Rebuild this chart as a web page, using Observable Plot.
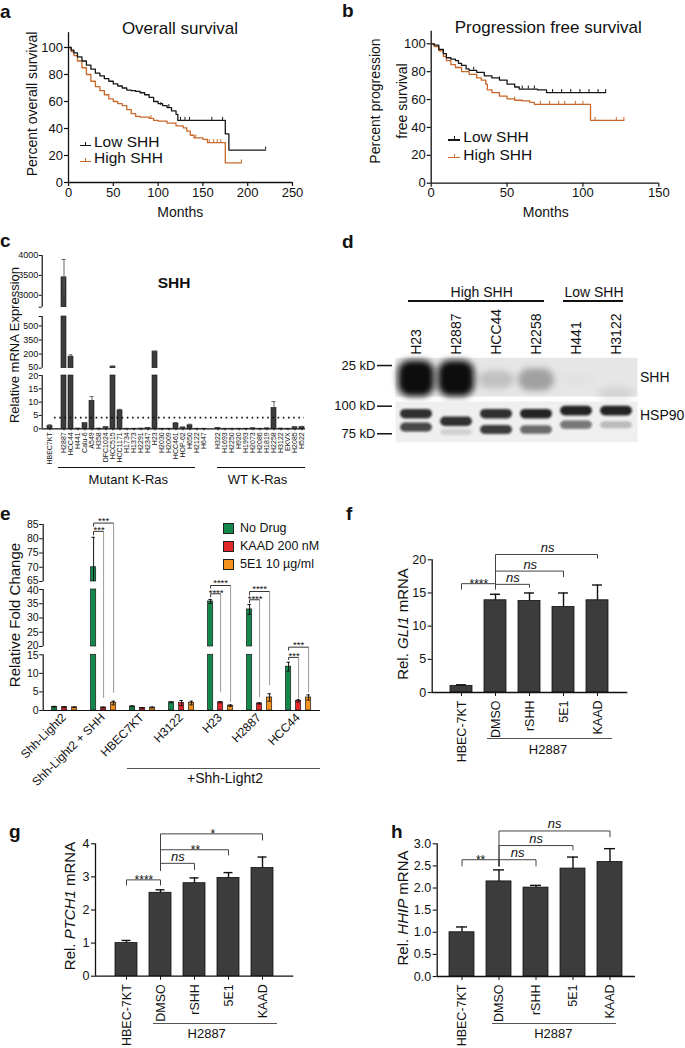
<!DOCTYPE html>
<html><head><meta charset="utf-8">
<script src="https://cdn.jsdelivr.net/npm/d3@7"></script>
<script src="https://cdn.jsdelivr.net/npm/@observablehq/plot@0.6"></script>
<style>
html,body{margin:0;padding:0;background:#fff;}
#root{position:relative;width:685px;height:1048px;overflow:hidden;font-family:"Liberation Sans",Arial,Helvetica,sans-serif;color:#111;background:#fff;}
#root svg{position:absolute;overflow:visible;max-width:none;}
.t{position:absolute;white-space:nowrap;line-height:1;}
.ln{position:absolute;}
</style></head><body><div id="root"></div>
<script>
// ======================= DATA =======================
// --- a/b: Kaplan–Meier curves [months, percent] ---
const monthTicksA = [0, 50, 100, 150, 200, 250];
const monthTicksB = [0, 50, 100, 150];
const pctTicks = [0, 20, 40, 60, 80, 100];
const kmA_low = [[0,100],[3,98],[6,96],[10,93],[15,90],[20,87],[25,84],[30,81],[35,79],[40,77],[45,75],[50,73],[55,71.5],[60,70],[65,68.5],[70,68],[75,67.5],[80,66.5],[85,65],[90,63],[95,60],[100,58.5],[105,57],[110,55.5],[115,53],[120,50.5],[122,46],[175,46],[175,36],[179,36],[179,24],[220,24]];
const kmA_high = [[0,100],[3,97],[6,94],[10,90],[15,85],[20,80],[25,75],[30,71],[35,68],[40,65],[45,62],[50,60],[55,58.5],[60,57],[65,54],[70,51],[75,49],[80,48.5],[90,47.5],[95,46],[100,45.5],[110,44],[120,42],[128,40.5],[132,38],[136,35],[140,33],[150,32],[155,29.5],[175,29.5],[175,14.5],[193,14.5]];
const censA_low = [[103,57],[112,55.5],[125,46],[130,46],[135,46],[160,46],[172,46],[220,24]];
const censA_high = [[92,47.5],[142,33],[157,29.5],[162,29.5],[166,29.5],[170,29.5],[193,14.5]];
const kmB_low = [[0,100],[2,99],[5,96],[8,93],[10,90],[13,89],[16,88],[18,86],[20,84.5],[23,82],[25,81],[30,79.5],[35,77],[40,75.5],[45,74],[50,71],[55,69],[58,67.5],[70,67],[76,65],[115,65]];
const kmB_high = [[0,100],[2,98],[5,95],[8,91],[10,88],[13,85],[16,83],[20,80],[25,78],[30,75.5],[33,74],[36,71],[37,67],[40,65],[45,62.5],[50,60.5],[55,59.5],[60,59],[65,58],[68,56.5],[105,56.5],[105,45],[127,45]];
const censB_low = [[28,81],[45,74],[60,67.5],[64,67.5],[68,67.5],[80,65],[86,65],[92,65],[98,65],[104,65],[110,65],[115,65]];
const censB_high = [[55,59.5],[72,56.5],[78,56.5],[84,56.5],[88,56.5],[95,56.5],[100,56.5],[108,45],[122,45],[127,45]];

// --- c: SHH mRNA by cell line ---
const controlC = ["HBEC7KT"];
const mutantC = ["H2887","HCC44","H441","Calu-6","A549","H358","DFC1024","HCC515","HCC1171","H1734","H1373","H2291","H2347","H23","H2030","H2009","HCC461","HOP-62","H650","H2122","H647"];
const wtC = ["H322","H1693","H2250","H920","H1993","H2073","H2086","H1819","H2258","H3122","EKVX","H2085","H522"];
const shhC = [1.0, 3450,172,0.1,2.1,10.5,0.1,0.6,68,6.9,0.05,0.05,0.1,0.35,227,0.05,0.05,2.0,0.5,1.3,0.05,0.05, 0.35,0.05,0.05,0.05,0.05,0.2,0.05,0.15,7.8,0.1,0.05,0.6,0.7];
const shhErrC = [0.5, 450,20,0,0.2,1.6,0,0.1,3,0.4,0,0,0,0.1,4,0,0,0.3,0.1,0.4,0,0, 0.1,0,0,0,0,0.05,0,0.05,2.4,0,0,0.1,0.2];
const cutoffC = 4.2;
const yTicksC = [0,5,10,15,20,50,200,350,500,600,2700,3000,3500,4000];
const yCapsC = [600, 2700];
const segC = [[0,20],[50,600],[2700,4000]];

// --- d: western blot ---
const lanesD = ["H23","H2887","HCC44","H2258","H441","H3122"];
const shhBlotKD = [21.8, 21.8, 21.5, 21.5, 21.5, 18.5];
const shhBlotSignal = [1.0, 1.0, 0.16, 0.3, 0.02, 0.08];
const hspUpperKD = [92, 85, 92, 92, 95, 95];
const hspUpperSignal = [0.85, 0.85, 0.85, 0.9, 0.9, 0.9];
const hspLowerKD = [80, 76, 78, 78, 82, 82];
const hspLowerSignal = [0.75, 0.12, 0.8, 0.6, 0.55, 0.22];
const ladderTopKD = [25];
const ladderBottomKD = [100, 75];

// --- e: Shh-Light2 reporter ---
const groupsE = ["Shh-Light2","Shh-Light2 + SHH","HBEC7KT","H3122","H23","H2887","HCC44"];
const treatsE = ["No Drug","KAAD 200 nM","5E1 10 µg/ml"];
const noDrugE = [1.0, 70.0, 1.1, 2.2, 35.8, 33.0, 11.8];
const noDrugErrE = [0.1, 10.5, 0.1, 0.15, 0.7, 1.7, 1.2];
const kaadE = [0.9, 0.8, 0.7, 2.0, 2.2, 1.9, 2.6];
const kaadErrE = [0.1, 0.1, 0.05, 0.7, 0.15, 0.15, 0.3];
const e5e1E = [0.85, 2.0, 0.8, 2.0, 1.3, 3.5, 3.5];
const e5e1ErrE = [0.05, 0.5, 0.1, 0.5, 0.2, 1.0, 0.7];
const yTicksE = [0,5,10,15,20,25,30,35,40,65,70,75,80,85];
const segE = [[0,15],[20,40],[65,85]];
const bracketsE = [
  {group:"Shh-Light2 + SHH", from:"No Drug", to:"KAAD 200 nM", y:82.6, yFrom:81.2, yTo:3.4, label:"***"},
  {group:"Shh-Light2 + SHH", from:"No Drug", to:"5E1 10 µg/ml", y:85.5, yFrom:84.3, yTo:4.8, label:"***"},
  {group:"H23", from:"No Drug", to:"KAAD 200 nM", y:38.5, yFrom:37.3, yTo:4.9, label:"****"},
  {group:"H23", from:"No Drug", to:"5E1 10 µg/ml", y:52.5, yFrom:43, yTo:2.3, label:"****"},
  {group:"H2887", from:"No Drug", to:"KAAD 200 nM", y:36.4, yFrom:35.2, yTo:3.6, label:"****"},
  {group:"H2887", from:"No Drug", to:"5E1 10 µg/ml", y:39.3, yFrom:38.0, yTo:6.8, label:"****"},
  {group:"HCC44", from:"No Drug", to:"KAAD 200 nM", y:14.3, yFrom:13.6, yTo:3.2, label:"***"},
  {group:"HCC44", from:"No Drug", to:"5E1 10 µg/ml", y:19.6, yFrom:17.6, yTo:4.9, label:"***"}
];

// --- f/g/h: H2887 target genes ---
const catsFGH = ["HBEC-7KT","DMSO","rSHH","5E1","KAAD"];
const gli1 = [1.0, 13.9, 13.8, 12.9, 13.9];
const gli1Err = [0.16, 0.9, 1.2, 2.1, 2.3];
const ptch1 = [1.0, 2.52, 2.81, 2.97, 3.27];
const ptch1Err = [0.08, 0.09, 0.16, 0.16, 0.33];
const hhip = [1.0, 2.15, 2.01, 2.44, 2.59];
const hhipErr = [0.12, 0.26, 0.05, 0.26, 0.3];
const bracketsF = [
  {from:"HBEC-7KT", to:"DMSO", y:16.4, yFrom:15.5, yTo:15.5, label:"****"},
  {from:"DMSO", to:"rSHH", y:16.3, yFrom:15.6, yTo:15.8, label:"ns"},
  {from:"DMSO", to:"5E1", y:18.3, yFrom:15.6, yTo:17.4, label:"ns"},
  {from:"DMSO", to:"KAAD", y:20.8, yFrom:15.6, yTo:20.2, label:"ns"}
];
const bracketsG = [
  {from:"HBEC-7KT", to:"DMSO", y:2.91, yFrom:2.74, yTo:2.74, label:"****"},
  {from:"DMSO", to:"rSHH", y:3.41, yFrom:3.19, yTo:3.21, label:"ns"},
  {from:"DMSO", to:"5E1", y:3.82, yFrom:3.19, yTo:3.65, label:"**"},
  {from:"DMSO", to:"KAAD", y:4.30, yFrom:3.19, yTo:4.10, label:"*"}
];
const bracketsH = [
  {from:"HBEC-7KT", to:"DMSO", y:2.64, yFrom:2.49, yTo:2.49, label:"**"},
  {from:"DMSO", to:"rSHH", y:2.64, yFrom:2.49, yTo:2.49, label:"ns"},
  {from:"DMSO", to:"5E1", y:2.96, yFrom:2.49, yTo:2.85, label:"ns"},
  {from:"DMSO", to:"KAAD", y:3.29, yFrom:2.49, yTo:3.15, label:"ns"}
];

// ======================= STYLE / LAYOUT =======================
const F = '"Liberation Sans", Arial, Helvetica, sans-serif';
const KM_BLACK = "#161616", KM_ORANGE = "#c8682a";
const BAR = "#3c3c3c";
const colorsE = ["#13884a", "#e2272d", "#f6921e"];
const root = document.getElementById("root");

function plotIn(box, opts) {
  const svg = Plot.plot({
    width: box.w, height: box.h,
    style: {fontFamily: F, fontSize: "12px", color: "#111", background: "transparent", overflow: "visible", maxWidth: "none"},
    ...opts
  });
  svg.style.left = box.l + "px";
  svg.style.top = box.t + "px";
  root.appendChild(svg);
  return svg;
}
function T(html, x, y, o = {}) {
  const d = document.createElement("div");
  d.className = "t";
  d.innerHTML = html;
  d.style.fontSize = (o.size || 13) + "px";
  if (o.bold) d.style.fontWeight = "bold";
  if (o.italic) d.style.fontStyle = "italic";
  d.style.left = x + "px";
  d.style.top = y + "px";
  const ax = o.anchor === "start" ? "0" : o.anchor === "end" ? "-100%" : "-50%";
  d.style.transform = `translate(${ax},-50%)` + (o.rotate ? ` rotate(${o.rotate}deg)` : "");
  root.appendChild(d);
}
function Letter(ch, x, baseline) {
  const d = document.createElement("div");
  d.className = "t";
  d.textContent = ch;
  d.style.fontSize = "19px";
  d.style.fontWeight = "bold";
  d.style.left = x + "px";
  d.style.top = (baseline - 0.8465 * 19) + "px";
  root.appendChild(d);
}
function Ln(x1, x2, y, w = 1, color = "#111") {
  const d = document.createElement("div");
  d.className = "ln";
  d.style.left = x1 + "px"; d.style.top = (y - w / 2) + "px";
  d.style.width = (x2 - x1) + "px"; d.style.height = w + "px";
  d.style.background = color;
  root.appendChild(d);
}
function Vn(x, y1, y2, w = 1, color = "#111") {
  const d = document.createElement("div");
  d.className = "ln";
  d.style.left = (x - w / 2) + "px"; d.style.top = y1 + "px";
  d.style.width = w + "px"; d.style.height = (y2 - y1) + "px";
  d.style.background = color;
  root.appendChild(d);
}
function pieces(v, segs) {
  return segs.filter(([lo]) => v > lo).map(([lo, hi]) => [lo, Math.min(v, hi)]);
}
// broken (piecewise) axis: a transform maps values onto the panel's pixel column
function brokenFn(dom, px) { return d3.scaleLinear().domain(dom).range(px); }
function brokenY(f, px, top) {
  return {transform: v => f(v), domain: [px[0], px[px.length - 1]], range: [px[0] - top, px[px.length - 1] - top], axis: null};
}
// tick lines + labels of a broken axis; crowded labels at a break are nudged apart
function brokenAxisMarks(f, ticks, label, up, down, o) {
  const pad = o.tickSize + o.tickPadding;
  const lab = (vals, dy) => Plot.axisY({ticks: vals.map(f), tickFormat: d => label(f.invert(d)), tickSize: 0, tickPadding: pad, fontSize: o.fontSize, dy, label: null});
  const rest = ticks.filter(v => !up.includes(v) && !down.includes(v));
  return [
    Plot.axisY({ticks: ticks.map(f), tickFormat: () => "", tickSize: o.tickSize, strokeWidth: 1, label: null}),
    lab(rest, 0), lab(up, -o.nudge), lab(down, o.nudge)
  ];
}
function blur(svg, desc, sd) {
  const id = "blur-" + desc;
  const defs = d3.select(svg).insert("defs", ":first-child");
  defs.append("filter").attr("id", id).attr("x", "-50%").attr("y", "-50%").attr("width", "200%").attr("height", "200%")
    .append("feGaussianBlur").attr("stdDeviation", sd);
  d3.select(svg).selectAll(`g[aria-description="${desc}"]`).attr("filter", `url(#${id})`);
}
const fx0 = d => d[0], fy1 = d => d[1];

// ======================= a / b =======================
function kmPanel(box, ax, ay, xDom, yTop, xTicks, low, high, cLow, cHigh) {
  const X = v => v - box.l, Y = v => v - box.t;
  plotIn(box, {
    marginLeft: X(ax[0]), marginRight: box.w - X(ax[1]), marginTop: Y(ay[1]), marginBottom: box.h - Y(ay[0]),
    x: {domain: xDom, range: [X(ax[0]), X(ax[1])], axis: null},
    y: {domain: [0, yTop], range: [Y(ay[0]), Y(ay[1])], axis: null},
    marks: [
      Plot.ruleY([0], {x1: () => xDom[0], x2: () => xDom[1], strokeWidth: 1.3}),
      Plot.ruleX([0], {y1: () => 0, y2: () => yTop, strokeWidth: 1.3}),
      Plot.axisX({ticks: xTicks, tickSize: 4, tickPadding: 1, fontSize: 13, strokeWidth: 1.2, label: null}),
      Plot.axisY({ticks: pctTicks, tickSize: 4, tickPadding: 1.5, fontSize: 13, strokeWidth: 1.2, label: null}),
      Plot.line(high, {x: fx0, y: fy1, curve: "step-after", stroke: KM_ORANGE, strokeWidth: 1.3}),
      Plot.line(low, {x: fx0, y: fy1, curve: "step-after", stroke: KM_BLACK, strokeWidth: 1.3}),
      Plot.ruleX(cHigh, {x: fx0, y1: fy1, y2: d => d[1] + 2.2, stroke: KM_ORANGE, strokeWidth: 1}),
      Plot.ruleX(cLow, {x: fx0, y1: fy1, y2: d => d[1] + 2.2, stroke: KM_BLACK, strokeWidth: 1})
    ]
  });
}
kmPanel({l: 0, t: 0, w: 340, h: 240}, [68, 292], [182, 32.15], [0, 250], 111, monthTicksA, kmA_low, kmA_high, censA_low, censA_high);
kmPanel({l: 340, t: 0, w: 345, h: 240}, [430.7, 658.3], [182.7, 30.75], [0, 150], 109, monthTicksB, kmB_low, kmB_high, censB_low, censB_high);

Letter("a", 0, 18.3);
T("Overall survival", 180, 28.3, {size: 17});
T("Percent overall survival", 31.7, 104.2, {size: 14, rotate: -90});
T("Months", 180.3, 211.7, {size: 14});
function kmKey(x1, x2, y, color) { Ln(x1, x2, y, 1.4, color); Vn((x1 + x2) / 2, y - 3.6, y, 1.3, color); }
kmKey(80, 90.7, 145.7, KM_BLACK); T("Low SHH", 94, 141.7, {size: 15.5, anchor: "start"});
kmKey(80, 90.7, 161.3, KM_ORANGE); T("High SHH", 94, 158.3, {size: 15.5, anchor: "start"});

Letter("b", 342, 16.7);
T("Progression free survival", 548.3, 26.7, {size: 17});
T("Percent progression", 375, 100.5, {size: 14, rotate: -90});
T("free survival", 402, 100.5, {size: 14, rotate: -90});
T("Months", 545.8, 212, {size: 14});
kmKey(448.3, 460, 140, KM_BLACK); T("Low SHH", 463.3, 136.7, {size: 15.5, anchor: "start"});
kmKey(448.3, 460, 157.3, KM_ORANGE); T("High SHH", 463.3, 155, {size: 15.5, anchor: "start"});

// ======================= c =======================
{
  const box = {l: 0, t: 250, w: 340, h: 240};
  const Y = v => v - box.t;
  const cellsC = [...controlC, ...mutantC, ...wtC];
  const slotsC = [...controlC, "gap1", ...mutantC, "gap2", ...wtC];
  const pxC = [428.3, 375, 367.7, 316, 306.7, 255];
  const fC = brokenFn([0, 20, 50, 600, 2700, 4000], pxC);
  const yScale = brokenY(fC, pxC, box.t);
  const bars = [], errs = [], caps = [];
  cellsC.forEach((cell, i) => {
    const v = shhC[i], e = shhErrC[i];
    pieces(v, segC).forEach(([y1, y2]) => bars.push({cell, y1, y2}));
    if (e > 0) {
      const seg = segC.find(([lo, hi]) => v >= lo && v <= hi);
      const lo = cell === "H2887" ? Math.max(v - e, seg[0]) : v;
      errs.push({cell, lo, hi: v + e});
      caps.push({cell, y: v + e});
    }
  });
  plotIn(box, {
    marginLeft: 41.7, marginRight: 35, marginTop: 5, marginBottom: box.h - Y(428.3),
    x: {type: "band", domain: slotsC, range: [43.1, 307.3], padding: 0.3, axis: null},
    y: yScale,
    marks: [
      Plot.barY(bars, {x: "cell", y1: "y1", y2: "y2", fill: BAR, stroke: "#111", strokeWidth: 0.6}),
      Plot.ruleX(errs, {x: "cell", y1: "lo", y2: "hi", stroke: "#555", strokeWidth: 0.9}),
      Plot.tickY(caps, {x: "cell", y: "y", stroke: "#555", strokeWidth: 0.9, insetLeft: 0.5, insetRight: 0.5}),
      Plot.ruleY([cutoffC], {x1: () => "gap1", x2: () => "H522", stroke: "#111", strokeWidth: 1.8, strokeDasharray: "1.6,3.6"}),
      Plot.axisX({ticks: cellsC, tickRotate: -90, tickSize: 2, tickPadding: 1.5, fontSize: 7, label: null})
    ]
  });
  plotIn(box, {
    marginLeft: 41.7, marginRight: box.w - 305, marginTop: 5, marginBottom: box.h - Y(428.3),
    x: {domain: [0, 1], range: [41.7, 305], axis: null},
    y: yScale,
    marks: [
      Plot.ruleX(segC, {x: () => 0, y1: fx0, y2: fy1, strokeWidth: 1.2}),
      Plot.ruleY([0], {x1: () => 0, x2: () => 1, strokeWidth: 1.2}),
      ...brokenAxisMarks(fC, yTicksC, v => {
        const t = yTicksC.find(k => Math.abs(k - v) < 1e-6);
        return yCapsC.includes(t) ? "" : String(t);
      }, [50], [20], {tickSize: 3, tickPadding: 1, fontSize: 9, nudge: 1.1})
    ]
  });
}
Letter("c", 0, 247);
T("SHH", 174, 282.7, {size: 15.5, bold: true});
T("Relative mRNA Expression", 13.5, 344.5, {size: 13, rotate: -90});
Ln(58, 195, 467.7, 1.6); Ln(217, 305, 467.7, 1.6);
T("Mutant K-Ras", 128.3, 479, {size: 13});
T("WT K-Ras", 257.5, 479, {size: 13});

// ======================= d =======================
{
  const boxT = {l: 340, t: 300, w: 345, h: 100};
  const shhBands = lanesD.map((lane, i) => ({lane, kD: shhBlotKD[i], s: shhBlotSignal[i]}));
  const halfT = s => Math.exp((3 + 15 * Math.sqrt(s)) / 95.9);
  const svgT = plotIn(boxT, {
    marginLeft: 52, marginRight: 48, marginTop: 57.3, marginBottom: 4,
    x: {type: "band", domain: lanesD, range: [55, 297], padding: 0, axis: null},
    y: {type: "log", domain: [27.1, 18.1], range: [57.3, 96], axis: null},
    opacity: {domain: [0, 1], range: [0, 1]},
    marks: [
      Plot.frame({fill: "#e6e6e6", stroke: "none", insetLeft: 3}),
      Plot.barY(shhBands, {x: "lane", y1: d => d.kD * halfT(d.s), y2: d => d.kD / halfT(d.s), fill: "#0a0a0a", fillOpacity: "s", insetLeft: 2, insetRight: 2, rx: 12, ariaDescription: "blotTop"}),
      Plot.axisX({anchor: "top", tickRotate: -90, tickSize: 0, tickPadding: 3, fontSize: 14, label: null}),
      Plot.axisY({ticks: ladderTopKD, tickFormat: d => d + " kD", tickSize: 15, tickPadding: 2, fontSize: 13, strokeWidth: 1.5, label: null})
    ]
  });
  blur(svgT, "blotTop", 3.2);

  const boxB = {l: 340, t: 400, w: 345, h: 50};
  const hspBands = lanesD.flatMap((lane, i) => [
    {lane, kD: hspUpperKD[i], s: hspUpperSignal[i]},
    {lane, kD: hspLowerKD[i], s: hspLowerSignal[i]}
  ]);
  const halfB = s => Math.exp((3 + 2 * s) / 95.9);
  const svgB = plotIn(boxB, {
    marginLeft: 52, marginRight: 48, marginTop: 1, marginBottom: 8.3,
    x: {type: "band", domain: lanesD, range: [55, 297], padding: 0, axis: null},
    y: {type: "log", domain: [105, 68.7], range: [1, 41.7], axis: null},
    opacity: {domain: [0, 1], range: [0, 1]},
    marks: [
      Plot.frame({fill: "#efefef", stroke: "none", insetLeft: 3}),
      Plot.barY(hspBands, {x: "lane", y1: d => d.kD * halfB(d.s), y2: d => d.kD / halfB(d.s), fill: "#111", fillOpacity: "s", insetLeft: 4, insetRight: 4, rx: 5, ariaDescription: "blotBottom"}),
      Plot.axisY({ticks: ladderBottomKD, tickFormat: d => d + " kD", tickSize: 15, tickPadding: 2, fontSize: 13, strokeWidth: 1.5, label: null})
    ]
  });
  blur(svgB, "blotBottom", 1.2);
}
Letter("d", 342, 248);
T("High SHH", 481.7, 291.7, {size: 14}); Ln(408.3, 544, 301, 1.8);
T("Low SHH", 594, 291.7, {size: 14}); Ln(562.7, 623.3, 301, 1.8);
T("SHH", 640, 376.7, {size: 14, anchor: "start"});
T("HSP90", 640, 415, {size: 14, anchor: "start"});

// ======================= e =======================
{
  const box = {l: 0, t: 505, w: 340, h: 290};
  const Y = v => v - box.t;
  const pxE = [710, 654.3, 646, 589, 581, 524];
  const fE = brokenFn([0, 15, 20, 40, 65, 85], pxE);
  const yScale = brokenY(fE, pxE, box.t);
  const valsE = [noDrugE, kaadE, e5e1E], errsE = [noDrugErrE, kaadErrE, e5e1ErrE];
  const bars = [], errs = [], caps = [];
  groupsE.forEach((group, gi) => treatsE.forEach((treat, ti) => {
    const v = valsE[ti][gi], e = errsE[ti][gi];
    pieces(v, segE).forEach(([y1, y2]) => bars.push({group, treat, y1, y2}));
    const seg = segE.find(([lo, hi]) => v >= lo && v <= hi);
    errs.push({group, treat, lo: Math.max(v - e, seg[0]), hi: v + e});
    caps.push({group, treat, y: v + e});
    if (v - e >= seg[0]) caps.push({group, treat, y: v - e});
  }));
  const stepE = 11;
  const mLeft = 41.9;
  const starStyle = {fontSize: 9.5, lineAnchor: "middle", fill: "#111"};
  plotIn(box, {
    marginLeft: mLeft, marginRight: box.w - 319.1, marginTop: 0, marginBottom: box.h - Y(710),
    fx: {domain: groupsE, range: [41.9, 319.1], padding: 0, axis: "bottom", tickRotate: -45, tickSize: 0, tickPadding: 5, label: null},
    x: {type: "band", domain: treatsE, range: [mLeft + 3.3, mLeft + 36.3], padding: 0, axis: null},
    y: yScale,
    color: {domain: treatsE, range: colorsE},
    marks: [
      Plot.link(bracketsE, {fx: "group", x1: "to", x2: "to", y1: "y", y2: "yTo", stroke: "#9a9a9a", strokeWidth: 1}),
      Plot.barY(bars, {fx: "group", x: "treat", y1: "y1", y2: "y2", fill: "treat", stroke: "#1a1a1a", strokeWidth: 0.7, insetLeft: 2.4, insetRight: 2.4}),
      Plot.ruleX(errs, {fx: "group", x: "treat", y1: "lo", y2: "hi", stroke: "#111", strokeWidth: 1}),
      Plot.tickY(caps, {fx: "group", x: "treat", y: "y", stroke: "#111", strokeWidth: 1, insetLeft: 3.3, insetRight: 3.3}),
      Plot.link(bracketsE, {fx: "group", x1: "from", x2: "to", y1: "y", y2: "y", stroke: "#333", strokeWidth: 1}),
      Plot.link(bracketsE, {fx: "group", x1: "from", x2: "from", y1: "y", y2: "yFrom", stroke: "#333", strokeWidth: 1}),
      Plot.text(bracketsE.filter(b => b.to === treatsE[1]), {fx: "group", x: "from", y: "y", text: "label", dx: stepE / 2, dy: -1, ...starStyle}),
      Plot.text(bracketsE.filter(b => b.to === treatsE[2]), {fx: "group", x: () => treatsE[1], y: "y", text: "label", dy: -2.6, ...starStyle})
    ]
  });
  plotIn(box, {
    marginLeft: 42.7, marginRight: box.w - 320, marginTop: 0, marginBottom: box.h - Y(710),
    x: {domain: [0, 1], range: [42.7, 320], axis: null},
    y: yScale,
    marks: [
      Plot.ruleX(segE, {x: () => 0, y1: fx0, y2: fy1, strokeWidth: 1.2}),
      Plot.ruleY([0], {x1: () => 0, x2: () => 1, strokeWidth: 1.2}),
      ...brokenAxisMarks(fE, yTicksE, v => String(Math.round(v)), [65, 20], [40, 15], {tickSize: 3.5, tickPadding: 1, fontSize: 10.5, nudge: 1.3})
    ]
  });
  // legend
  treatsE.forEach((t, i) => {
    const cy = [528.3, 546, 564.3][i];
    const sq = document.createElement("div");
    sq.className = "ln";
    sq.style.cssText += `left:223px;top:${cy - 5}px;width:8.5px;height:8.5px;background:${colorsE[i]};border:1px solid #222;`;
    root.appendChild(sq);
    T(t, 240, cy, {size: 12.5, anchor: "start"});
  });
}
Letter("e", 0, 520);
T("Relative Fold Change", 14, 615, {size: 15, rotate: -90});
Ln(126.7, 320, 768.3, 1.3, "#555");
T("+Shh-Light2", 225, 778, {size: 14});

// ======================= f / g / h =======================
function barPanel(c) {
  const {box} = c;
  const X = v => v - box.l, Y = v => v - box.t;
  const data = catsFGH.map((cat, i) => ({cat, v: c.vals[i], e: c.errs[i]}));
  const n = catsFGH.length;
  const step = (c.band[1] - c.band[0]) / (n + c.padding);
  const idx = k => catsFGH.indexOf(k);
  const yScale = {domain: c.yDomain, range: [Y(c.base), Y(c.yTopPx)], axis: null};
  const margins = {marginLeft: X(c.axis[0]), marginRight: box.w - X(c.axis[1]), marginTop: 0, marginBottom: box.h - Y(c.base)};
  const lineStyle = {stroke: "#444", strokeWidth: 1};
  plotIn(box, {
    ...margins,
    x: {type: "band", domain: catsFGH, range: [X(c.band[0]), X(c.band[1])], padding: c.padding, axis: null},
    y: yScale,
    marks: [
      Plot.barY(data, {x: "cat", y: "v", fill: BAR, stroke: "#111", strokeWidth: 0.8}),
      Plot.ruleX(data, {x: "cat", y1: "v", y2: d => d.v + d.e, stroke: "#111", strokeWidth: 1.4}),
      Plot.tickY(data, {x: "cat", y: d => d.v + d.e, stroke: "#111", strokeWidth: 1.4, insetLeft: c.capInset, insetRight: c.capInset}),
      Plot.link(c.brackets, {x1: "from", x2: "to", y1: "y", y2: "y", ...lineStyle}),
      Plot.link(c.brackets, {x1: "from", x2: "from", y1: "y", y2: "yFrom", ...lineStyle}),
      Plot.link(c.brackets, {x1: "to", x2: "to", y1: "y", y2: "yTo", ...lineStyle}),
      ...c.brackets.map(b => Plot.text([b], {
        x: () => b.from, y: () => b.y, text: () => b.label,
        dx: (idx(b.to) - idx(b.from)) * step / 2,
        ...(b.label === "ns"
          ? {fontSize: 13, fontStyle: "italic", lineAnchor: "bottom", dy: -2.5}
          : {fontSize: 12, lineAnchor: "middle", dy: 0.5})
      })),
      Plot.axisX({tickRotate: -90, tickSize: 4, tickPadding: 4, fontSize: 12.5, label: null})
    ]
  });
  plotIn(box, {
    ...margins,
    x: {domain: [0, 1], range: [X(c.axis[0]), X(c.axis[1])], axis: null},
    y: yScale,
    marks: [
      Plot.ruleX([0], {y1: () => c.yDomain[0], y2: () => c.yDomain[1], strokeWidth: 1.3}),
      Plot.ruleY([0], {x1: () => 0, x2: () => 1, strokeWidth: 1.3}),
      Plot.axisY({ticks: c.yTicks, tickFormat: c.yFormat, tickSize: 4, tickPadding: 2, fontSize: 12.5, strokeWidth: 1.1, label: null})
    ]
  });
}
barPanel({box: {l: 340, t: 530, w: 345, h: 260}, vals: gli1, errs: gli1Err, brackets: bracketsF,
  axis: [431.7, 627.3], band: [435.7, 621.9], padding: 0.36, base: 692, yTopPx: 559.3, yDomain: [0, 20],
  yTicks: [0, 5, 10, 15, 20], yFormat: d => String(d), capInset: 6});
barPanel({box: {l: 0, t: 815, w: 340, h: 233}, vals: ptch1, errs: ptch1Err, brackets: bracketsG,
  axis: [95, 293.3], band: [100.9, 287.3], padding: 0.34, base: 975.7, yTopPx: 843.3, yDomain: [0, 4],
  yTicks: [0, 1, 2, 3, 4], yFormat: d => String(d), capInset: 6.5});
barPanel({box: {l: 340, t: 815, w: 345, h: 233}, vals: hhip, errs: hhipErr, brackets: bracketsH,
  axis: [436.7, 635], band: [436, 634], padding: 0.33, base: 976, yTopPx: 843.3, yDomain: [0, 3],
  yTicks: [0, 0.5, 1, 1.5, 2, 2.5, 3], yFormat: d3.format(".1f"), capInset: 7});

Letter("f", 346, 520);
T("Rel. <i>GLI1</i> mRNA", 401.7, 623.5, {size: 15, rotate: -90});
Ln(486.7, 611.7, 738.3, 1, "#555"); T("H2887", 548, 749.3, {size: 13});
Letter("g", 9, 838);
T("Rel. <i>PTCH1</i> mRNA", 68.5, 906, {size: 15, rotate: -90});
Ln(153.3, 276.7, 1023.3, 1, "#555"); T("H2887", 206.7, 1033.3, {size: 13});
Letter("h", 391, 838);
T("Rel. <i>HHIP</i> mRNA", 401.7, 908.3, {size: 15, rotate: -90});
Ln(491.7, 616, 1023.3, 1, "#555"); T("H2887", 553.3, 1033.3, {size: 13});
</script></body></html>
